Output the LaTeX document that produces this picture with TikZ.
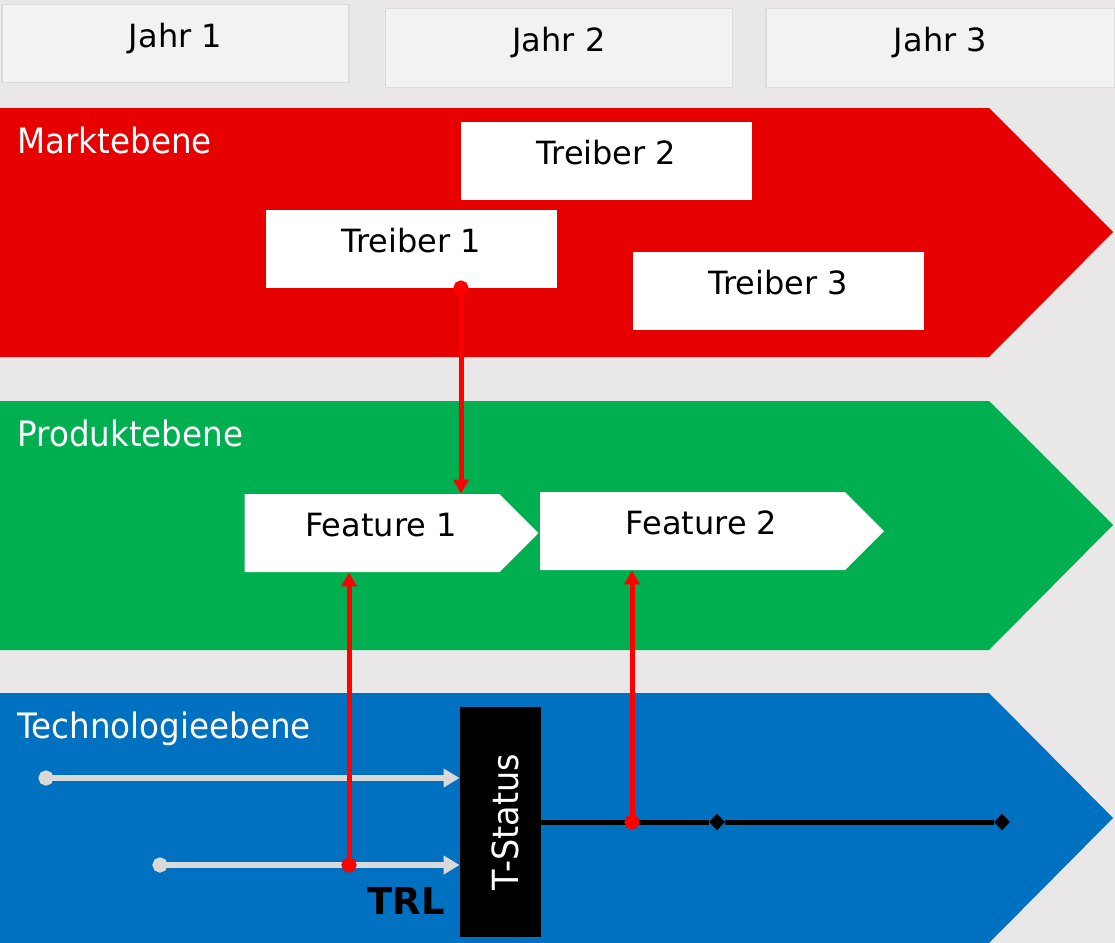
\documentclass[tikz,border=0pt]{standalone}
\usepackage{fontspec}
\setmainfont{DejaVu Sans}
\newfontfamily\titelfont{DejaVu Sans}[FakeStretch=0.93]
\usetikzlibrary{arrows.meta}
\usetikzlibrary{shapes.symbols}
\usetikzlibrary{shapes.geometric}
\definecolor{hintergrund}{HTML}{E9E7E7}
\definecolor{jahrgrau}{HTML}{F2F2F2}
\definecolor{jahrrand}{HTML}{DCDCDC}
\definecolor{marktrot}{HTML}{E60000}
\definecolor{produktgruen}{HTML}{00B050}
\definecolor{techblau}{HTML}{0070C0}
\definecolor{linkgrau}{HTML}{D9D9D9}
\definecolor{linkrot}{HTML}{FF0000}
\tikzset{
  boxtext/.style={font=\fontsize{16}{19}\selectfont, text height=12pt, text depth=8.5pt, inner sep=0pt},
  jahr/.style={boxtext, draw=jahrrand, line width=0.75pt, fill=jahrgrau, minimum height=39pt},
  treiber/.style={boxtext, fill=white, minimum width=145.5pt, minimum height=39pt},
  feature/.style={boxtext, signal, signal to=east, fill=white, minimum height=39pt,
    execute at begin node=\hspace*{9pt}},
  ebene/.style={anchor=base west, text=white, inner sep=0pt, font=\titelfont\fontsize{17.5}{20}\selectfont},
  tstatus/.style={fill=black, text=white, inner sep=0pt, minimum width=40.5pt, minimum height=115pt, font=\titelfont\fontsize{18}{21}\selectfont},
  trl/.style={inner sep=0pt, font=\bfseries\fontsize{18.5}{21}\selectfont},
  meilenstein/.style={diamond, fill=black, inner sep=0pt, minimum width=8pt, minimum height=8.5pt},
  rotlink/.style={draw=linkrot, line width=2.5pt, {Circle[length=7.5pt]}-{Triangle[length=7pt,width=7.5pt]}},
  graulink/.style={draw=linkgrau, line width=3pt, {Circle[length=7.5pt]}-{Triangle[length=8pt,width=9pt]}},
  zeitlinie/.style={draw=black, line width=2.5pt}
}
\begin{document}
\begin{tikzpicture}[x=0.5pt,y=-0.5pt]
  \useasboundingbox (0,0) rectangle (1115,943);
  \fill[hintergrund] (0,0) rectangle (1115,943);
  % Jahre
  \node[jahr, minimum width=173.5pt] (j1) at (175.5,43.5) {Jahr 1};
  \node[jahr, minimum width=173.5pt, minimum height=39.5pt] (j2) at (559,48) {Jahr 2};
  \node[jahr, minimum width=174.5pt, minimum height=39.5pt] (j3) at (940.5,48) {Jahr 3};
  % Ebenen
  \fill[marktrot] (0,108) -- (989,108) -- (1113,232) -- (989,357) -- (0,357) -- cycle;
  \fill[produktgruen] (0,401) -- (989,401) -- (1113,525) -- (989,650) -- (0,650) -- cycle;
  \fill[techblau] (0,693) -- (989,693) -- (1113,818) -- (989,943) -- (0,943) -- cycle;
  \node[ebene] (me) at (17,153) {Marktebene};
  \node[ebene] (pe) at (17,446) {Produktebene};
  \node[ebene] (te) at (17,738) {Technologieebene};
  % Treiber und Features
  \node[treiber] (t2) at (606.5,161) {Treiber 2};
  \node[treiber] (t1) at (411,248.5) {Treiber 1};
  \node[treiber] (t3) at (778,291) {Treiber 3};
  \node[feature, minimum width=147pt] (f1) at (372,533) {Feature 1};
  \node[feature, minimum width=172pt] (f2) at (692.5,531) {Feature 2};
  % Technologie
  \node[tstatus] (ts) at (500.5,822) {\hspace*{5pt}\rotatebox{90}{T-Status}};
  \node[trl] (trl) at (406,901) {TRL};
  \node[meilenstein] (m1) at (717,822) {};
  \node[meilenstein] (m2) at (1002,822) {};
  \coordinate (g1) at (46,778);
  \coordinate (g2) at (160,865);
  \draw[graulink] ([xshift=-3.75pt]g1) -- (g1 -| ts.west);
  \draw[graulink] ([xshift=-3.75pt]g2) -- (g2 -| ts.west);
  \draw[zeitlinie] (ts.east |- m1) -- (m1) -- (m2);
  % Verbindungen
  \coordinate (k1) at (461,288);
  \coordinate (k2) at (349,865);
  \coordinate (k3) at (632,822);
  \draw[rotlink] ([yshift=3.75pt]k1) -- (k1 |- f1.north);
  \draw[rotlink] ([yshift=-3.75pt]k2) -- (k2 |- f1.south);
  \draw[rotlink] ([yshift=-3.75pt]k3) -- (k3 |- f2.south);
\end{tikzpicture}
\end{document}
